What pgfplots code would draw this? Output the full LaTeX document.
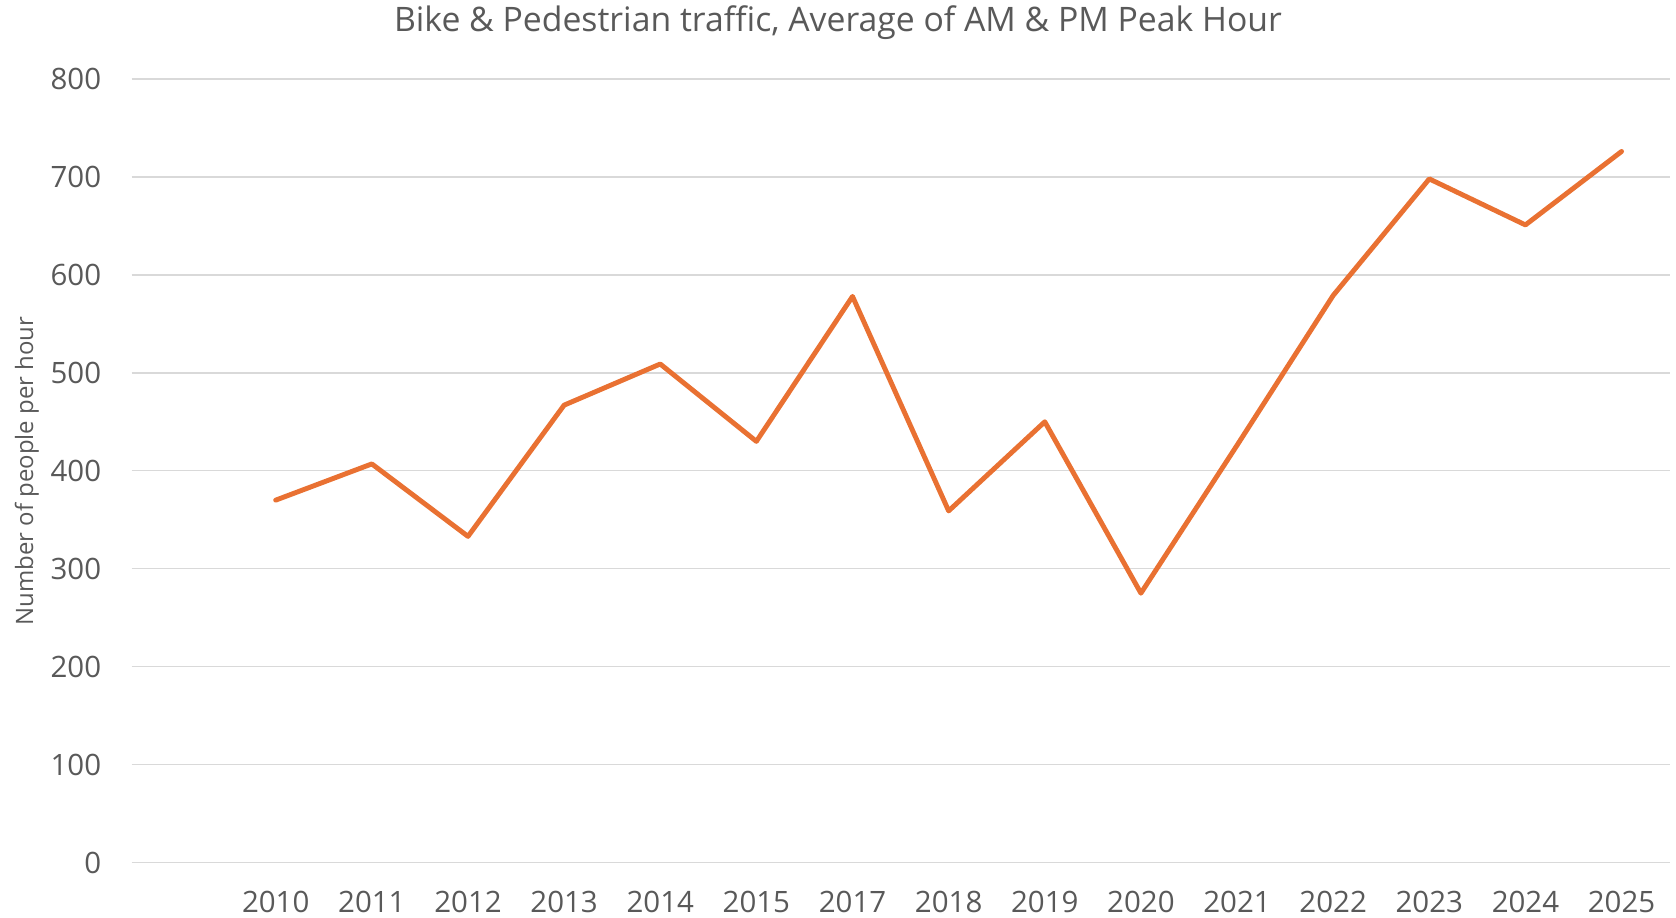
\documentclass[border=0pt]{standalone}
\usepackage{pgfplots}
\pgfplotsset{compat=1.18}
\usepackage{fontspec}
\setmainfont{Open Sans}
\definecolor{txtc}{HTML}{595959}
\definecolor{gridc}{HTML}{D9D9D9}
\definecolor{orac}{HTML}{E97132}
\begin{document}
\begin{tikzpicture}
\path[use as bounding box] (-53.6pt,-22.2pt) rectangle (629.4pt,351.5pt);
\begin{axis}[
  at={(0,0)}, anchor=south west,
  scale only axis, width=626.8pt, height=319.3pt,
  xmin=0.5, xmax=16.5, ymin=0, ymax=800,
  axis line style={draw=none},
  major tick length=0pt,
  tick style={draw=none},
  ytick={0,100,...,800},
  xtick={2,...,16},
  xticklabels={2010,2011,2012,2013,2014,2015,2017,2018,2019,2020,2021,2022,2023,2024,2025},
  xmajorgrids=false, ymajorgrids=true,
  y grid style={draw=gridc, line width=0.6pt},
  ticklabel style={font=\fontsize{12}{14}\selectfont, text=txtc},
  /pgf/number format/assume math mode=true,
  yticklabel style={inner sep=0pt, anchor=east, xshift=-12.2pt},
  xticklabel style={inner sep=0pt, anchor=north, yshift=-11.5pt},
  clip=false,
]
\addplot[orac, line width=2pt, line join=round, line cap=round] coordinates {
(2,370) (3,407) (4,333) (5,467) (6,509) (7,430) (8,578) (9,359) (10,450) (11,275) (12,426) (13,579) (14,698) (15,651) (16,726)
};
\end{axis}
\node[text=txtc, font=\fontsize{13.75}{16}\selectfont, inner sep=0pt] at (287.9pt,342.2pt) {Bike \& Pedestrian traffic, Average of AM \& PM Peak Hour};
\node[text=txtc, font=\fontsize{9.75}{12}\selectfont, inner sep=0pt, rotate=90] at (-42.7pt,159.5pt) {Number of people per hour};
\end{tikzpicture}
\end{document}
